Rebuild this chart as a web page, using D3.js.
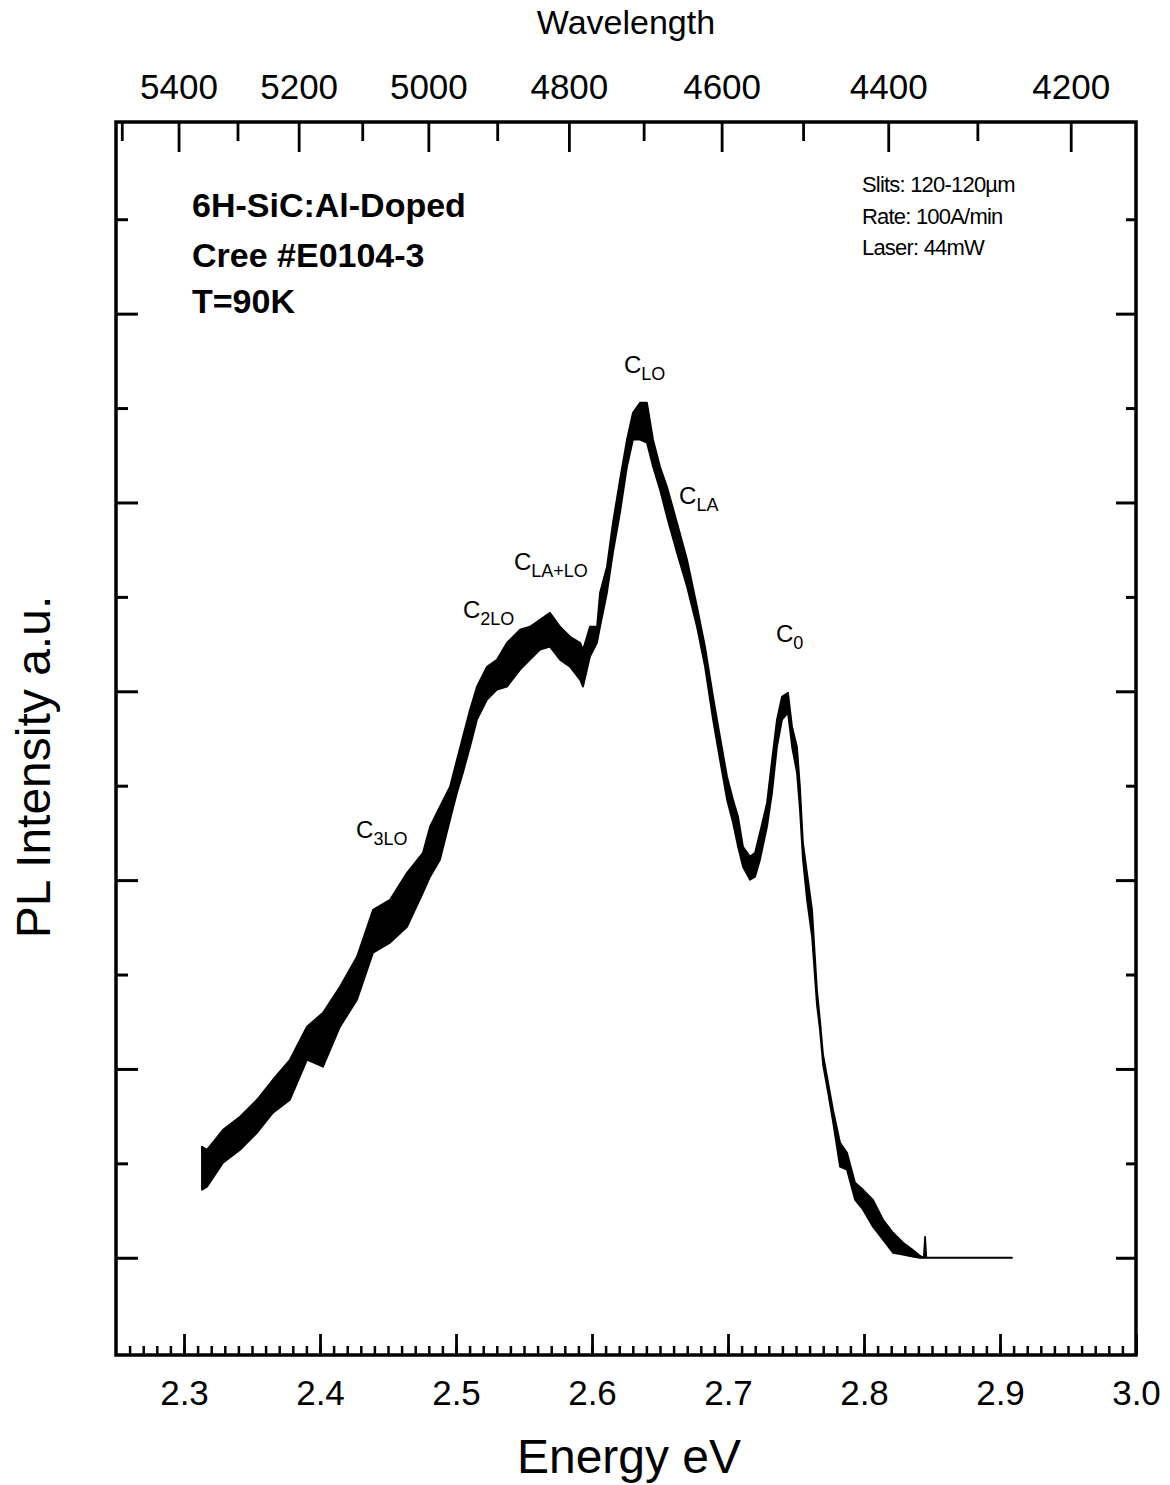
<!DOCTYPE html>
<html>
<head>
<meta charset="utf-8">
<script src="https://cdn.jsdelivr.net/npm/d3@7"></script>
<style>
  html, body { margin: 0; padding: 0; background: #fff; }
  svg { display: block; font-family: "Liberation Sans", Arial, Helvetica, sans-serif; }
</style>
</head>
<body>
<svg id="chart" width="1170" height="1485"></svg>
<script>
// ---- PL spectrum of 6H-SiC:Al, 90 K (noise band: upper / lower envelope) ----
const energy = [2.3132, 2.3169, 2.3287, 2.3412, 2.3537, 2.3654, 2.3779, 2.3904, 2.4022, 2.4147,
  2.4272, 2.4390, 2.4515, 2.4640, 2.4757, 2.4809, 2.4882, 2.4956, 2.5007, 2.5051,
  2.5103, 2.5154, 2.5228, 2.5301, 2.5375, 2.5471, 2.5544, 2.5618, 2.5691, 2.5765,
  2.5838, 2.5912, 2.5934, 2.5985, 2.6037, 2.6059, 2.6110, 2.6154, 2.6206, 2.6257,
  2.6301, 2.6353, 2.6404, 2.6449, 2.6500, 2.6551, 2.6625, 2.6699, 2.6772, 2.6831,
  2.6890, 2.6941, 2.6993, 2.7037, 2.7074, 2.7110, 2.7162, 2.7199, 2.7235, 2.7287,
  2.7324, 2.7360, 2.7397, 2.7441, 2.7471, 2.7507, 2.7529, 2.7551, 2.7581, 2.7618,
  2.7654, 2.7676, 2.7699, 2.7735, 2.7772, 2.7824, 2.7875, 2.7934, 2.7993, 2.8066,
  2.8140, 2.8213, 2.8287, 2.8357, 2.8412, 2.8440, 2.8449, 2.8458, 2.9088];

const intensityHigh = [1.176, 1.144, 1.356, 1.494, 1.674, 1.886, 2.097, 2.447, 2.595, 2.871,
  3.189, 3.686, 3.792, 4.078, 4.290, 4.566, 4.778, 4.989, 5.275, 5.519,
  5.805, 6.049, 6.261, 6.335, 6.515, 6.653, 6.684, 6.758, 6.833, 6.684,
  6.578, 6.515, 6.441, 6.684, 6.684, 7.044, 7.320, 7.786, 8.242, 8.665,
  8.951, 9.057, 9.057, 8.665, 8.379, 8.167, 7.786, 7.394, 6.896, 6.472,
  5.943, 5.519, 5.095, 4.852, 4.672, 4.354, 4.248, 4.290, 4.502, 4.820,
  5.275, 5.699, 5.943, 5.985, 5.625, 5.413, 4.989, 4.396, 4.078, 3.686,
  2.839, 2.521, 2.150, 1.864, 1.568, 1.218, 1.112, 0.794, 0.720, 0.614,
  0.403, 0.265, 0.159, 0.085, 0.020, 0, 0.222, 0, 0];

const intensityLow = [0.720, 0.752, 1.006, 1.144, 1.324, 1.536, 1.674, 2.097, 2.023, 2.447,
  2.733, 3.231, 3.337, 3.506, 3.867, 4.036, 4.216, 4.640, 4.926, 5.138,
  5.413, 5.699, 5.911, 6.017, 6.049, 6.229, 6.335, 6.441, 6.472, 6.335,
  6.261, 6.123, 6.049, 6.367, 6.515, 6.684, 7.044, 7.468, 7.892, 8.379,
  8.665, 8.665, 8.633, 8.379, 8.136, 7.850, 7.468, 7.108, 6.684, 6.261,
  5.699, 5.275, 4.852, 4.608, 4.354, 4.142, 4.004, 4.036, 4.216, 4.566,
  4.926, 5.413, 5.699, 5.773, 5.413, 5.138, 4.746, 4.216, 3.792, 3.400,
  2.680, 2.415, 2.044, 1.758, 1.441, 0.964, 0.932, 0.614, 0.508, 0.328,
  0.191, 0.053, 0.032, 0.011, 0, 0, 0, 0, 0];

// ---- axis ticks ----
const energyTicks = [2.3, 2.4, 2.5, 2.6, 2.7, 2.8, 2.9, 3.0];
const energyMinorTicks = d3.range(226, 300).map(v => v / 100);
const wavelengthTicks = [5400, 5200, 5000, 4800, 4600, 4400, 4200];
const wavelengthMinorTicks = [5500, 5300, 5100, 4900, 4700, 4500, 4300];
const intensityMajorTicks = [0, 2, 4, 6, 8, 10];
const intensityMinorTicks = [1, 3, 5, 7, 9, 11];

// ---- annotations ----
const sampleInfo = ["6H-SiC:Al-Doped", "Cree #E0104-3", "T=90K"];
const setupInfo = ["Slits:  120-120\u00B5m", "Rate:  100A/min", "Laser:  44mW"];
const peakNames = ["3LO", "2LO", "LA+LO", "LO", "LA", "0"];
// label anchor (energy, intensity) for each peak name
const peakLabelLayout = [
  { e: 2.4265, i: 4.45 }, { e: 2.5051, i: 6.78 }, { e: 2.5426, i: 7.28 },
  { e: 2.6235, i: 9.37 }, { e: 2.6640, i: 7.98 }, { e: 2.7353, i: 6.52 }
];

const HC = 12398.4; // eV·Å
const toEnergy = w => HC / w;

const svg = d3.select("#chart");
const plot = { left: 116, right: 1136, top: 122, bottom: 1355 };

const x = d3.scaleLinear().domain([2.25, 3.0]).range([plot.left, plot.right]);
const y = d3.scaleLinear().domain([-1.03, 12.03]).range([plot.bottom, plot.top]);

function styleAxis(g, width) {
  g.select(".domain").remove();
  g.selectAll(".tick line").attr("stroke", "#000").attr("stroke-width", width);
  g.selectAll(".tick text").attr("fill", "#000");
}

// bottom axis: energy
svg.append("g").attr("transform", `translate(0,${plot.bottom})`)
  .call(d3.axisBottom(x).tickValues(energyMinorTicks).tickSizeInner(-9).tickSizeOuter(0).tickFormat(""))
  .call(g => styleAxis(g, 2.5));
svg.append("g").attr("transform", `translate(0,${plot.bottom})`)
  .call(d3.axisBottom(x).tickValues(energyTicks).tickSizeInner(-21).tickSizeOuter(0)
    .tickPadding(25).tickFormat(d3.format(".1f")))
  .call(g => styleAxis(g, 2.8))
  .call(g => g.selectAll(".tick text").attr("font-size", 35));

// top axis: wavelength (Å)
svg.append("g").attr("transform", `translate(0,${plot.top})`)
  .call(d3.axisTop(x).tickValues(wavelengthMinorTicks.map(toEnergy)).tickSizeInner(-19).tickSizeOuter(0).tickFormat(""))
  .call(g => styleAxis(g, 2.8));
svg.append("g").attr("transform", `translate(0,${plot.top})`)
  .call(d3.axisTop(x).tickValues(wavelengthTicks.map(toEnergy)).tickSizeInner(-30).tickSizeOuter(0)
    .tickPadding(23).tickFormat((d, i) => wavelengthTicks[i]))
  .call(g => styleAxis(g, 2.8))
  .call(g => g.selectAll(".tick text").attr("font-size", 35));

// left / right intensity ticks (no labels)
[[d3.axisLeft, plot.left, -22, -12], [d3.axisRight, plot.right, -20, -10]].forEach(([axis, px, major, minor]) => {
  svg.append("g").attr("transform", `translate(${px},0)`)
    .call(axis(y).tickValues(intensityMajorTicks).tickSizeInner(major).tickSizeOuter(0).tickFormat(""))
    .call(g => styleAxis(g, 3));
  svg.append("g").attr("transform", `translate(${px},0)`)
    .call(axis(y).tickValues(intensityMinorTicks).tickSizeInner(minor).tickSizeOuter(0).tickFormat(""))
    .call(g => styleAxis(g, 3));
});

// frame
svg.append("rect")
  .attr("x", plot.left).attr("y", plot.top)
  .attr("width", plot.right - plot.left).attr("height", plot.bottom - plot.top)
  .attr("fill", "none").attr("stroke", "#000").attr("stroke-width", 3.5);

// spectrum
const spectrum = energy.map((e, k) => ({ e, hi: intensityHigh[k], lo: intensityLow[k] }));
const band = d3.area()
  .x(d => x(d.e))
  .y0(d => y(d.lo))
  .y1(d => y(d.hi));
svg.append("path")
  .datum(spectrum)
  .attr("d", band)
  .attr("fill", "#000")
  .attr("stroke", "#000")
  .attr("stroke-width", 1.8)
  .attr("stroke-linejoin", "round");

// axis titles
svg.append("text").attr("x", 626).attr("y", 34).attr("text-anchor", "middle")
  .attr("font-size", 34).text("Wavelength");
svg.append("text").attr("x", 629).attr("y", 1473).attr("text-anchor", "middle")
  .attr("font-size", 48).text("Energy eV");
svg.append("text").attr("transform", "translate(50,767) rotate(-90)").attr("text-anchor", "middle")
  .attr("font-size", 48).text("PL Intensity a.u.");

// sample block
const sampleY = [217, 267, 313];
sampleInfo.forEach((t, k) => {
  svg.append("text").attr("x", 192).attr("y", sampleY[k])
    .attr("font-size", 34).attr("font-weight", "bold").text(t);
});

// measurement settings
const setupY = [192, 223.5, 255];
setupInfo.forEach((t, k) => {
  svg.append("text").attr("x", 862).attr("y", setupY[k])
    .attr("font-size", 22).attr("letter-spacing", -0.8).text(t);
});

// peak labels C with subscripts
peakNames.forEach((name, k) => {
  const p = peakLabelLayout[k];
  const t = svg.append("text").attr("x", x(p.e)).attr("y", y(p.i)).attr("font-size", 24);
  t.append("tspan").text("C");
  t.append("tspan").attr("font-size", 18).attr("dy", 7).text(name);
});
</script>
</body>
</html>
